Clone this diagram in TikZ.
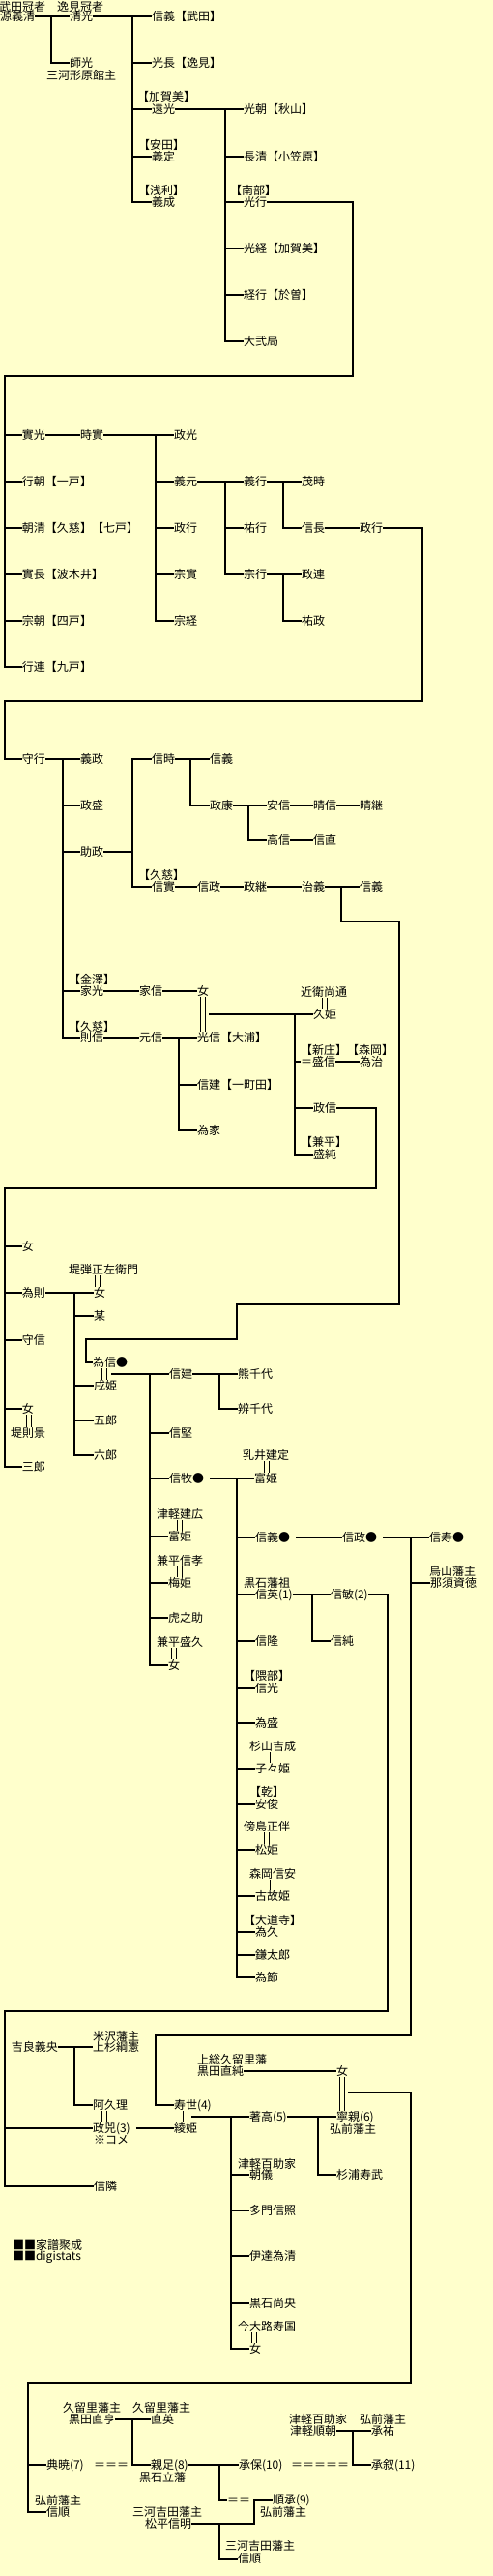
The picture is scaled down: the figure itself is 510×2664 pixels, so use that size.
\documentclass[tikz,border=0pt]{standalone}
\usepackage{fontspec}
\newfontfamily\jp{Noto Sans CJK JP}
\definecolor{bg}{HTML}{FFFFCC}
\newcommand\kid[3]{\draw[ln] (#1) -| (#2,0 |- #3.west) -- (#3.west);}
\newcommand\kids[3]{\foreach \kk in {#3}{\kid{#1}{#2}{\kk}}}
\newcommand\wed[3]{\draw[mar] (#3,0 |- #1.south) -- (#3,0 |- #2.north);}
\begin{document}
\begin{tikzpicture}[x=1pt,y=-1pt,
 nm/.style={inner sep=0pt,outer sep=0pt,text height=10.5pt,text depth=1.5pt,anchor=west,font=\jp\fontsize{12pt}{12pt}\selectfont},
 lb/.style={nm,anchor=center},
 ln/.style={line width=2pt,line join=miter},
 mar/.style={line width=1pt,double=bg,double distance=4pt}]
\useasboundingbox (0,0) rectangle (510,2664);
\fill[bg] (0,0) rectangle (510,2664);
% ---------- section 1
\node[lb] (t1) at (23,7) {武田冠者};
\node[nm] (n1) at (0,17) {源義清};
\node[lb] (t2) at (83,7) {逸見冠者};
\node[nm] (n2) at (72,17) {清光};
\node[nm] (n3) at (72,65) {師光};
\node[lb] (t3) at (84,78) {三河形原館主};
\node[nm] (n4) at (157,17) {信義【武田】};
\node[nm] (n5) at (157,65) {光長【逸見】};
\node[lb] (t4) at (172,100) {【加賀美】};
\node[nm] (n6) at (157,113) {遠光};
\node[lb] (t5) at (167,150) {【安田】};
\node[nm] (n7) at (157,162) {義定};
\node[lb] (t6) at (167,197) {【浅利】};
\node[nm] (n8) at (157,209) {義成};
\node[nm] (n9) at (252,113) {光朝【秋山】};
\node[nm] (n10) at (252,162) {長清【小笠原】};
\node[lb] (t7) at (262,197) {【南部】};
\node[nm] (n11) at (252,209) {光行};
\node[nm] (n12) at (252,257) {光経【加賀美】};
\node[nm] (n13) at (252,305) {経行【於曽】};
\node[nm] (n14) at (252,353) {大弐局};
\kids{n1.east}{53}{n2,n3}
\kids{n2.east}{137}{n4,n5,n6,n7,n8}
\kids{n6.east}{233}{n9,n10,n11,n12,n13,n14}
% ---------- section 2
\node[nm] (m1) at (23,450) {實光};
\node[nm] (m2) at (83,450) {時實};
\node[nm] (m3) at (180,450) {政光};
\node[nm] (m4) at (23,498) {行朝【一戸】};
\node[nm] (m5) at (180,498) {義元};
\node[nm] (m6) at (252,498) {義行};
\node[nm] (m7) at (312,498) {茂時};
\node[nm] (m8) at (23,546) {朝清【久慈】【七戸】};
\node[nm] (m9) at (180,546) {政行};
\node[nm] (m10) at (252,546) {祐行};
\node[nm] (m11) at (312,546) {信長};
\node[nm] (m12) at (372,546) {政行};
\node[nm] (m13) at (23,594) {實長【波木井】};
\node[nm] (m14) at (180,594) {宗實};
\node[nm] (m15) at (252,594) {宗行};
\node[nm] (m16) at (312,594) {政連};
\node[nm] (m17) at (23,642) {宗朝【四戸】};
\node[nm] (m18) at (180,642) {宗経};
\node[nm] (m19) at (312,642) {祐政};
\node[nm] (m20) at (23,690) {行連【九戸】};
\coordinate (w1) at (5,389);
\draw[ln] (n11.east) -| (365,389) -- (w1) |- (m20.west);
\foreach \kk in {m1,m4,m8,m13,m17} \draw[ln] (w1 |- \kk.west) -- (\kk.west);
\draw[ln] (m1.east) -- (m2.west);
\kids{m2.east}{161}{m3,m5,m9,m14,m18}
\kids{m5.east}{233}{m6,m10,m15}
\kids{m6.east}{293}{m7,m11}
\kids{m15.east}{293}{m16,m19}
\draw[ln] (m11.east) -- (m12.west);
% ---------- section 3
\node[nm] (p1) at (23,785) {守行};
\node[nm] (p2) at (83,785) {義政};
\node[nm] (p3) at (83,833) {政盛};
\node[nm] (p4) at (83,881) {助政};
\node[nm] (p5) at (157,785) {信時};
\node[nm] (p6) at (217,785) {信義};
\node[nm] (p7) at (217,833) {政康};
\node[nm] (p8) at (276,833) {安信};
\node[nm] (p9) at (324,833) {晴信};
\node[nm] (p10) at (372,833) {晴継};
\node[nm] (p11) at (276,869) {高信};
\node[nm] (p12) at (324,869) {信直};
\node[lb] (p13l) at (167,905) {【久慈】};
\node[nm] (p13) at (157,917) {信實};
\node[nm] (p14) at (204,917) {信政};
\node[nm] (p15) at (252,917) {政継};
\node[nm] (p16) at (312,917) {治義};
\node[nm] (p17) at (372,917) {信義};
\node[lb] (p18l) at (95,1013) {【金澤】};
\node[nm] (p18) at (83,1025) {家光};
\node[nm] (p19) at (144,1025) {家信};
\node[nm] (p20) at (204,1025) {女};
\node[lb] (p21l) at (95,1062) {【久慈】};
\node[nm] (p21) at (83,1073) {則信};
\node[nm] (p22) at (144,1073) {元信};
\node[nm] (p23) at (204,1073) {光信【大浦】};
\node[lb] (p24t) at (335,1026) {近衛尚通};
\node[nm] (p24) at (324,1049) {久姫};
\node[lb] (p25l) at (335,1086) {【新庄】};
\node[lb] (p26l) at (383,1086) {【森岡】};
\node[nm] (p25) at (311,1098) {＝盛信};
\node[nm] (p26) at (372,1098) {為治};
\node[nm] (p27) at (204,1122) {信建【一町田】};
\node[nm] (p28) at (204,1169) {為家};
\node[nm] (p29) at (324,1146) {政信};
\node[lb] (p30l) at (335,1181) {【兼平】};
\node[nm] (p30) at (324,1194) {盛純};
\coordinate (w2) at (5,725);
\draw[ln] (m12.east) -| (437,725) -- (w2) |- (p1.west);
\kids{p1.east}{65}{p2,p3,p4,p18,p21}
\kids{p4.east}{137}{p5,p13}
\kids{p5.east}{197}{p6,p7}
\kids{p7.east}{257}{p8,p11}
\draw[ln] (p8.east) -- (p9.west);
\draw[ln] (p9.east) -- (p10.west);
\draw[ln] (p11.east) -- (p12.west);
\draw[ln] (p13.east) -- (p14.west);
\draw[ln] (p14.east) -- (p15.west);
\draw[ln] (p15.east) -- (p16.west);
\kid{p16.east}{353}{p17}
\draw[ln] (p18.east) -- (p19.west);
\draw[ln] (p19.east) -- (p20.west);
\draw[ln] (p21.east) -- (p22.west);
\kids{p22.east}{185}{p23,p27,p28}
\wed{p20}{p23}{209.5}
\wed{p24t}{p24}{335.5}
\coordinate (k1) at (216,1049);
\kids{k1}{305}{p24,p25,p29,p30}
\draw[ln] (p25.east) -- (p26.west);
% ---------- section 4
\node[nm] (q1) at (23,1289) {女};
\node[lb] (q2t) at (107,1313) {堤弾正左衛門};
\node[nm] (q2) at (23,1337) {為則};
\node[nm] (q3) at (97,1337) {女};
\node[nm] (q4) at (97,1361) {某};
\node[nm] (q5) at (23,1386) {守信};
\node[nm] (q6) at (96,1409) {為信●};
\node[nm] (q7) at (97,1433) {戌姫};
\node[nm] (q8) at (97,1469) {五郎};
\node[nm] (q9) at (97,1505) {六郎};
\node[nm] (q10) at (23,1457) {女};
\node[lb] (q11) at (29,1482) {堤則景};
\node[nm] (q12) at (23,1517) {三郎};
\node[nm] (q13) at (175,1421) {信建};
\node[nm] (q14) at (246,1421) {熊千代};
\node[nm] (q15) at (246,1457) {辨千代};
\node[nm] (q16) at (175,1482) {信堅};
\node[lb] (q17t) at (275,1505) {乳井建定};
\node[nm] (q17) at (175,1529) {信牧●};
\node[nm] (q18) at (263,1529) {富姫};
\node[lb] (q19t) at (186,1566) {津軽建広};
\node[nm] (q19) at (174,1589) {富姫};
\node[lb] (q20t) at (186,1614) {兼平信孝};
\node[nm] (q20) at (174,1637) {梅姫};
\node[nm] (q21) at (174,1673) {虎之助};
\node[lb] (q22t) at (186,1698) {兼平盛久};
\node[nm] (q22) at (174,1722) {女};
\draw[ln] (353,0 |- p16.east) |- (413,953) |- (245,1349) |- (89,1385) |- (q6.west);
\coordinate (w3) at (5,1229);
\draw[ln] (p29.east) -| (389,1229) -- (w3) |- (q12.west);
\foreach \kk in {q1,q2,q5,q10} \draw[ln] (w3 |- \kk.west) -- (\kk.west);
\kids{q2.east}{77}{q3,q4,q7,q8,q9}
\wed{q2t}{q3}{100.5}
\wed{q6}{q7}{107.5}
\wed{q10}{q11}{29.5}
\coordinate (k2) at (115,1421);
\kids{k2}{155}{q13,q16,q17,q19,q20,q21,q22}
\kids{q13.east}{227}{q14,q15}
\wed{q17t}{q18}{275.5}
\wed{q19t}{q19}{185.5}
\wed{q20t}{q20}{185.5}
\wed{q22t}{q22}{179.5}
% ---------- section 5
\node[nm] (r1) at (264,1590) {信義●};
\node[nm] (r2) at (354,1590) {信政●};
\node[nm] (r3) at (444,1590) {信寿●};
\node[lb] (r4t) at (468,1625) {烏山藩主};
\node[nm] (r4) at (445,1637) {那須資徳};
\node[lb] (r5t) at (276,1637) {黒石藩祖};
\node[nm] (r5) at (264,1649) {信英(1)};
\node[nm] (r6) at (342,1649) {信敏(2)};
\node[nm] (r7) at (342,1697) {信純};
\node[nm] (r8) at (264,1697) {信隆};
\node[lb] (r9l) at (276,1733) {【隈部】};
\node[nm] (r9) at (264,1746) {信光};
\node[nm] (r10) at (264,1782) {為盛};
\node[lb] (r11t) at (282,1806) {杉山吉成};
\node[nm] (r11) at (264,1829) {子々姫};
\node[lb] (r12l) at (276,1853) {【乾】};
\node[nm] (r12) at (264,1866) {安俊};
\node[lb] (r13t) at (276,1889) {傍島正伴};
\node[nm] (r13) at (264,1913) {松姫};
\node[lb] (r14t) at (282,1938) {森岡信安};
\node[nm] (r14) at (264,1961) {古故姫};
\node[lb] (r15l) at (282,1986) {【大道寺】};
\node[nm] (r15) at (264,1998) {為久};
\node[nm] (r16) at (264,2022) {鎌太郎};
\node[nm] (r17) at (264,2045) {為節};
\coordinate (k3) at ([xshift=6pt]q17.east);
\kids{k3}{245}{q18,r1,r5,r8,r9,r10,r11,r12,r13,r14,r15,r16,r17}
\draw[ln] ([xshift=6pt]r1.east) -- (r2.west);
\coordinate (k4) at ([xshift=6pt]r2.east);
\kids{k4}{425}{r3,r4}
\kids{r5.east}{323}{r6,r7}
\wed{r11t}{r11}{281.5}
\wed{r13t}{r13}{275.5}
\wed{r14t}{r14}{281.5}
% ---------- section 6
\node[lb] (s1t) at (120,2106) {米沢藩主};
\node[nm] (s1) at (96,2117) {上杉綱憲};
\node[lb] (s0) at (36,2117) {吉良義央};
\node[nm] (s2) at (96,2177) {阿久理};
\node[nm] (s3) at (96,2201) {政兕(3)};
\node[nm] (s3b) at (97,2213) {※コメ};
\node[nm] (s4) at (97,2261) {信隣};
\node[nm] (s5) at (180,2177) {寿世(4)};
\node[nm] (s6) at (180,2201) {綾姫};
\node[lb] (s7t) at (240,2130) {上総久留里藩};
\node[lb] (s7) at (228,2142) {黒田直純};
\node[nm] (s8) at (348,2142) {女};
\node[nm] (s9) at (258,2189) {著高(5)};
\node[nm] (s10) at (348,2189) {寧親(6)};
\node[lb] (s10b) at (365,2202) {弘前藩主};
\node[lb] (s11t) at (276,2238) {津軽百助家};
\node[nm] (s11) at (258,2249) {朝儀};
\node[nm] (s12) at (348,2249) {杉浦寿武};
\node[nm] (s13) at (258,2286) {多門信照};
\node[nm] (s14) at (258,2333) {伊達為清};
\node[nm] (s15) at (258,2382) {黒石尚央};
\node[lb] (s16t) at (276,2406) {今大路寿国};
\node[nm] (s16) at (258,2429) {女};
\node[nm] (s17) at (13,2322) {■■家譜聚成};
\node[nm] (s18) at (13,2333) {■■digistats};
\draw[ln] (k4) -| (425,2105) -- (161,2105) |- (s5.west);
\coordinate (w4) at (5,2080);
\draw[ln] (r6.east) -| (401,2080) -- (w4) |- (s4.west);
\draw[ln] (w4 |- s3.west) -- (s3.west);
\kids{s0.east}{77}{s1,s2}
\wed{s2}{s3}{107.5}
\draw[ln] ([xshift=6pt]s3.east) -- (s6.west);
\wed{s5}{s6}{191.5}
\coordinate (k5) at (198,2189);
\kids{k5}{239}{s9,s11,s13,s14,s15,s16}
\draw[ln] (s7.east) -- (s8.west);
\wed{s8}{s10}{353.5}
\kids{s9.east}{329}{s10,s12}
\wed{s16t}{s16}{263}
% ---------- section 7
\node[lb] (u1t) at (95,2490) {久留里藩主};
\node[lb] (u1) at (95,2502) {黒田直亨};
\node[lb] (u2t) at (167,2490) {久留里藩主};
\node[nm] (u2) at (156,2502) {直英};
\node[nm] (u3) at (48,2549) {典暁(7)};
\node[nm] (u3e) at (97,2549) {＝＝＝};
\node[nm] (u4) at (156,2549) {親足(8)};
\node[lb] (u4b) at (168,2562) {黒石立藩};
\node[nm] (u5) at (247,2549) {承保(10)};
\node[nm] (u5e) at (301,2549) {＝＝＝＝＝};
\node[lb] (u6t) at (329,2502) {津軽百助家};
\node[lb] (u6) at (324,2514) {津軽順朝};
\node[lb] (u7t) at (396,2502) {弘前藩主};
\node[nm] (u7) at (384,2514) {承祐};
\node[nm] (u8) at (384,2549) {承叙(11)};
\node[lb] (u9t) at (60,2586) {弘前藩主};
\node[nm] (u9) at (48,2598) {信順};
\node[nm] (u10e) at (235,2585) {＝＝};
\node[nm] (u10) at (282,2585) {順承(9)};
\node[lb] (u10b) at (293,2598) {弘前藩主};
\node[lb] (u11t) at (173,2598) {三河吉田藩主};
\node[lb] (u11) at (174,2610) {松平信明};
\node[lb] (u12t) at (269,2633) {三河吉田藩主};
\node[nm] (u12) at (246,2646) {信順};
\coordinate (k6) at (360,2164);
\coordinate (w5) at (29,2464);
\draw[ln] (k6) -| (425,2464) -- (w5) |- (u9.west);
\draw[ln] (w5 |- u3.west) -- (u3.west);
\kids{u1.east}{137}{u2,u4}
\kids{u4.east}{227}{u5,u10e}
\kids{u6.east}{365}{u7,u8}
\draw[ln] (u11.east) -| (263,0 |- u10.west) -- (u10.west);
\kid{u11.east}{227}{u12}
\end{tikzpicture}
\end{document}
